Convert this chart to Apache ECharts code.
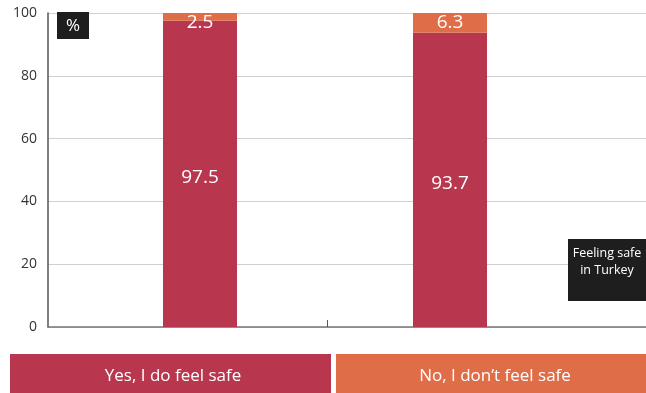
<!DOCTYPE html>
<html>
<head>
<meta charset="utf-8">
<script src="https://cdn.jsdelivr.net/npm/echarts@6/dist/echarts.min.js"></script>
<style>
  html, body { margin: 0; padding: 0; background: #fff; }
  #chart { width: 646px; height: 393px; }
</style>
</head>
<body>
<div id="chart"></div>
<script>
// data
const categories = ['Group 1', 'Group 2'];
const seriesNames = ['Yes, I do feel safe', 'No, I don\u2019t feel safe'];
const yesValues = [97.5, 93.7];
const noValues = [2.5, 6.3];
const colors = ['#B9374E', '#DF6E48'];
const title = 'Feeling safe\nin Turkey';

const font = '"Open Sans", sans-serif';

const chart = echarts.init(document.getElementById('chart'));

const option = {
  animation: false,
  textStyle: { fontFamily: font },
  // grid 0: full-width frame (y labels, gridlines, axis lines)
  // grid 1: the bars, narrower so the two columns sit where they do in the picture
  grid: [
    { left: 48, right: 0, top: 13, bottom: 66 },
    { left: 75, right: 71, top: 13, bottom: 66 }
  ],
  xAxis: [
    {
      gridIndex: 0,
      type: 'value',
      min: 0,
      max: 1,
      axisLine: { show: true, lineStyle: { color: '#777', width: 1.5 } },
      axisTick: { show: true, inside: true, length: 7, customValues: [0.4666], lineStyle: { color: '#555' } },
      axisLabel: { show: false },
      splitLine: { show: false }
    },
    {
      gridIndex: 1,
      type: 'category',
      data: categories,
      show: false
    }
  ],
  yAxis: [
    {
      gridIndex: 0,
      type: 'value',
      min: 0,
      max: 100,
      interval: 20,
      axisLine: { show: true, lineStyle: { color: '#555', width: 1.5 } },
      axisTick: { show: false },
      axisLabel: { color: '#333', fontSize: 14, margin: 11, fontFamily: font },
      splitLine: { lineStyle: { color: '#d0d0d0', width: 1.2 } }
    },
    {
      gridIndex: 1,
      type: 'value',
      min: 0,
      max: 100,
      show: false,
      splitLine: { show: false }
    }
  ],
  series: [
    {
      name: seriesNames[0],
      type: 'bar',
      xAxisIndex: 1,
      yAxisIndex: 1,
      stack: 'safe',
      barWidth: 74,
      itemStyle: { color: colors[0] },
      label: { show: true, position: 'inside', offset: [0, 4], color: '#fff', fontSize: 19, fontFamily: font },
      data: yesValues
    },
    {
      name: seriesNames[1],
      type: 'bar',
      xAxisIndex: 1,
      yAxisIndex: 1,
      stack: 'safe',
      barWidth: 74,
      itemStyle: { color: colors[1] },
      label: { show: true, position: 'insideTop', distance: 0, color: '#fff', fontSize: 19, fontFamily: font },
      data: noValues
    }
  ],
  graphic: [
    { type: 'rect', z: 100, left: 57, top: 12, shape: { width: 32, height: 27 }, style: { fill: '#1e1e1e' } },
    { type: 'text', z: 101, x: 73, y: 26, style: { text: '%', fill: '#fff', fontSize: 17, align: 'center', verticalAlign: 'middle', fontFamily: font } },
    { type: 'rect', z: 100, left: 568, top: 239, shape: { width: 90, height: 62 }, style: { fill: '#1e1e1e' } },
    { type: 'text', z: 101, x: 607, y: 245, style: { text: title, fill: '#fff', fontSize: 12.5, lineHeight: 17, align: 'center', fontFamily: font } },
    { type: 'rect', z: 100, left: 10, top: 354, shape: { width: 321, height: 39 }, style: { fill: colors[0] } },
    { type: 'text', z: 101, x: 173, y: 376, style: { text: seriesNames[0], fill: '#fff', fontSize: 17, align: 'center', verticalAlign: 'middle', fontFamily: font } },
    { type: 'rect', z: 100, left: 336, top: 354, shape: { width: 310, height: 39 }, style: { fill: colors[1] } },
    { type: 'text', z: 101, x: 495, y: 376, style: { text: seriesNames[1], fill: '#fff', fontSize: 17, align: 'center', verticalAlign: 'middle', fontFamily: font } }
  ]
};

chart.setOption(option);
</script>
</body>
</html>
